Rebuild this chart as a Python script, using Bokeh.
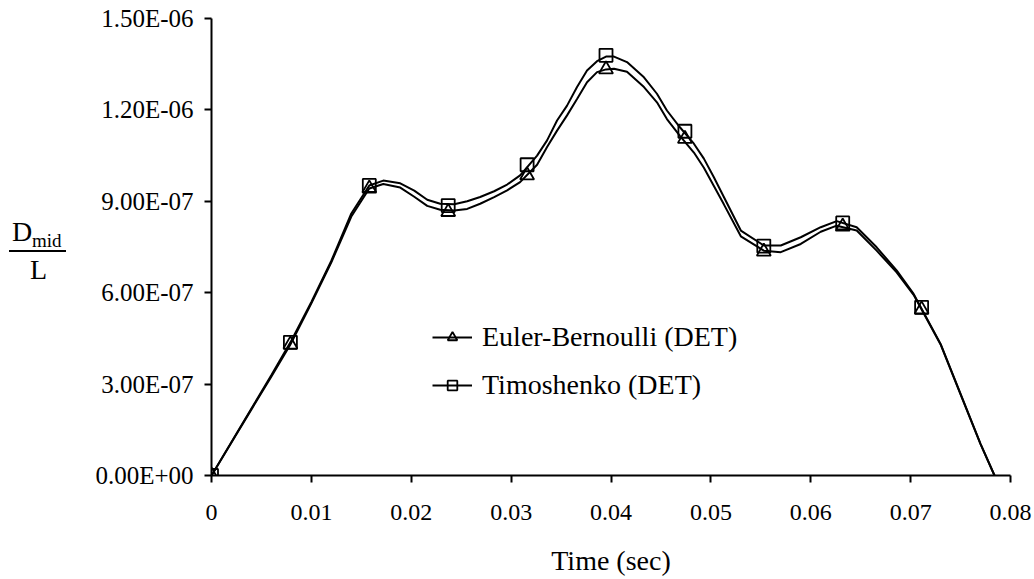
from bokeh.plotting import figure
from bokeh.models import FixedTicker, Legend, LegendItem, Div
from bokeh.layouts import row
from bokeh.embed import file_html
from bokeh.resources import INLINE

# ---------------- data ----------------
t_line = [0.0, 0.002, 0.004, 0.006, 0.0079, 0.010, 0.012, 0.014, 0.0158, 0.0172,
          0.0189, 0.0203, 0.0216, 0.0229, 0.0243, 0.0256, 0.0269, 0.0283, 0.0296, 0.0309,
          0.0326, 0.0336, 0.0346, 0.0356, 0.0366, 0.0376, 0.0386, 0.0395, 0.0403, 0.0416,
          0.0433, 0.0446, 0.0456, 0.0469, 0.0483, 0.0493, 0.0503, 0.0513, 0.0530, 0.0553,
          0.0570, 0.0590, 0.0610, 0.0626, 0.0646, 0.0666, 0.0686, 0.0703, 0.0730, 0.0750,
          0.0770, 0.0784]

# values in units of 1e-7
euler_line = [0.0, 1.08, 2.17, 3.25, 4.30, 5.65, 7.00, 8.50, 9.42, 9.57,
              9.45, 9.15, 8.85, 8.72, 8.70, 8.75, 8.92, 9.14, 9.36, 9.63,
              10.20, 10.78, 11.32, 11.82, 12.36, 12.91, 13.24, 13.33, 13.35, 13.25,
              12.75, 12.25, 11.70, 11.15, 10.60, 10.10, 9.50, 8.90, 7.85, 7.38,
              7.33, 7.60, 8.00, 8.20, 8.04, 7.38, 6.67, 5.93, 4.30, 2.66,
              1.03, 0.0]

timo_line = [0.0, 1.10, 2.20, 3.30, 4.37, 5.70, 7.05, 8.60, 9.52, 9.68,
             9.59, 9.35, 9.05, 8.92, 8.90, 9.00, 9.14, 9.33, 9.55, 9.85,
             10.50, 11.00, 11.65, 12.14, 12.75, 13.29, 13.60, 13.75, 13.75, 13.57,
             13.07, 12.53, 11.98, 11.43, 10.89, 10.40, 9.79, 9.14, 8.04, 7.55,
             7.55, 7.82, 8.15, 8.35, 8.15, 7.49, 6.73, 5.96, 4.32, 2.68,
             1.04, 0.0]

t_mark = [0.0, 0.0079, 0.0158, 0.0237, 0.0316, 0.0395, 0.0474, 0.0553, 0.0632, 0.0711]
euler_mark = [0.0, 4.30, 9.42, 8.65, 9.85, 13.33, 11.05, 7.35, 8.17, 5.45]
timo_mark = [0.0, 4.37, 9.52, 8.86, 10.20, 13.79, 11.30, 7.53, 8.29, 5.52]

series_names = ["Euler-Bernoulli (DET)", "Timoshenko (DET)"]

x_ticks = [0.0, 0.01, 0.02, 0.03, 0.04, 0.05, 0.06, 0.07, 0.08]
x_tick_labels = ["0", "0.01", "0.02", "0.03", "0.04", "0.05", "0.06", "0.07", "0.08"]
y_ticks = [0.0, 3e-7, 6e-7, 9e-7, 1.2e-6, 1.5e-6]
y_tick_labels = ["0.00E+00", "3.00E-07", "6.00E-07", "9.00E-07", "1.20E-06", "1.50E-06"]

x_title = "Time (sec)"
y_title_top, y_title_sub, y_title_bottom = "D", "mid", "L"

SCALE = 1e-7
euler_line_v = [v * SCALE for v in euler_line]
timo_line_v = [v * SCALE for v in timo_line]
euler_mark_v = [v * SCALE for v in euler_mark]
timo_mark_v = [v * SCALE for v in timo_mark]

FONT = "Liberation Serif"
DIV_W = 70

p = figure(width=1034 - DIV_W, height=579, x_range=(0, 0.08), y_range=(0, 1.5e-6),
           output_backend="svg", toolbar_location=None,
           min_border_left=211 - DIV_W, min_border_right=24, min_border_top=18,
           min_border_bottom=104)
p.outline_line_color = None
p.xgrid.visible = False
p.ygrid.visible = False
p.background_fill_color = "white"
p.border_fill_color = "white"

r_eb_l = p.line(t_line, euler_line_v, line_color="black", line_width=2)
r_tm_l = p.line(t_line, timo_line_v, line_color="black", line_width=2)
r_eb_m = p.scatter(t_mark, euler_mark_v, marker="triangle", size=14,
                   fill_color=None, line_color="black", line_width=1.8)
r_tm_m = p.scatter(t_mark, timo_mark_v, marker="square", size=13,
                   fill_color=None, line_color="black", line_width=1.8)

for ax in (p.xaxis, p.yaxis):
    ax.axis_line_color = "black"
    ax.axis_line_width = 2
    ax.major_tick_line_color = "black"
    ax.major_tick_line_width = 2
    ax.major_tick_out = 7
    ax.major_tick_in = 0
    ax.minor_tick_line_color = None
    ax.major_label_text_font = FONT
    ax.major_label_text_color = "black"

p.xaxis.major_label_text_font_size = "24px"
p.yaxis.major_label_text_font_size = "25px"

p.xaxis.ticker = FixedTicker(ticks=x_ticks)
p.xaxis.major_label_overrides = dict(zip(x_ticks, x_tick_labels))
p.xaxis.major_label_standoff = 22
p.xaxis.axis_label = x_title
p.xaxis.axis_label_text_font = FONT
p.xaxis.axis_label_text_font_style = "normal"
p.xaxis.axis_label_text_font_size = "28px"
p.xaxis.axis_label_text_color = "black"
p.xaxis.axis_label_standoff = 22

p.yaxis.ticker = FixedTicker(ticks=y_ticks)
p.yaxis.major_label_overrides = dict(zip(y_ticks, y_tick_labels))
p.yaxis.major_label_standoff = 11

legend = Legend(items=[LegendItem(label=series_names[0], renderers=[r_eb_l, r_eb_m]),
                       LegendItem(label=series_names[1], renderers=[r_tm_l, r_tm_m])],
                location=(221, 74), padding=0, margin=0, spacing=16,
                glyph_width=40, glyph_height=24, label_standoff=10,
                label_text_font=FONT, label_text_font_size="28px",
                label_text_color="black",
                background_fill_alpha=0, border_line_alpha=0)
p.add_layout(legend)

# y-axis title  D_mid / L  (fraction) in a narrow Div to the left of the plot
html = (
    f'<div style="position:relative;width:{DIV_W}px;height:579px;'
    f"font-family:'{FONT}';color:black;\">"
    f'<span style="position:absolute;left:12px;top:218px;font-size:28px;line-height:1;">{y_title_top}</span>'
    f'<span style="position:absolute;left:32px;top:231px;font-size:19px;line-height:1;">{y_title_sub}</span>'
    f'<div style="position:absolute;left:9px;top:250px;width:57px;height:2px;background:black;"></div>'
    f'<span style="position:absolute;left:30px;top:256px;font-size:28px;line-height:1;">{y_title_bottom}</span>'
    '</div>'
)
div = Div(text=html, width=DIV_W, height=579, margin=0)

layout = row(div, p, spacing=0)
open("out.html", "w").write(file_html(layout, INLINE))
